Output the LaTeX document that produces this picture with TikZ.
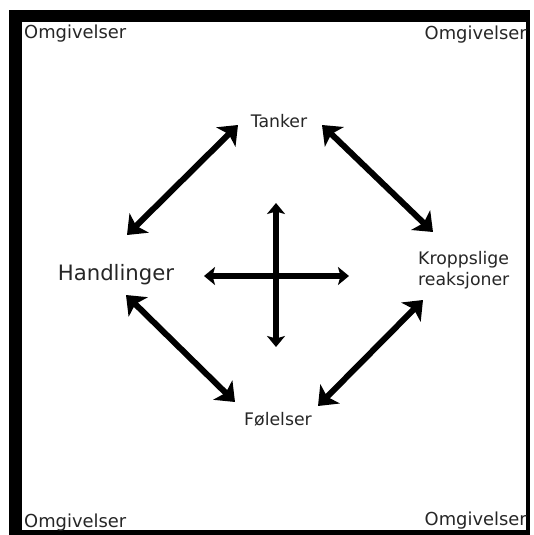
\documentclass[tikz,border=0pt]{standalone}
\usepackage{fontspec}
\setmainfont{DejaVu Sans}
\usetikzlibrary{arrows.meta}
\begin{document}
\begin{tikzpicture}[x=1pt,y=-1pt,
  lbl/.style={inner sep=0pt,font=\fontsize{17.3}{21}\selectfont,text=black!85},
  big/.style={inner sep=0pt,font=\fontsize{21.2}{26}\selectfont,text=black!85},
  corner/.style={inner sep=0pt,font=\fontsize{17.9}{21}\selectfont,text=black!85},
  diag/.style={line width=6pt,{Stealth[length=17pt,width=27pt,inset=4pt]}-{Stealth[length=17pt,width=27pt,inset=4pt]}},
  cross/.style={line width=6.5pt,{Stealth[length=11pt,width=18pt,inset=2.5pt]}-{Stealth[length=11pt,width=18pt,inset=2.5pt]}}]
\useasboundingbox (0,0) rectangle (533,535);
\fill[white] (0,0) rectangle (533,535);
\fill[black] (9,10) rectangle (530,535);
\fill[white] (22,22) rectangle (526,530);
% corner texts
\node[corner,anchor=base west] (c1) at (24,38) {Omgivelser};
\node[corner,anchor=base east] (c2) at (527,40) {Omgivelser};
\node[corner,anchor=base west] (c3) at (24,527) {Omgivelser};
\node[corner,anchor=base east] (c4) at (527,525) {Omgivelser};
% labels
\node[lbl,anchor=base] (tanker) at (279,127) {Tanker};
\node[big,anchor=base] (handl) at (116,280) {Handlinger};
\node[lbl,align=left,anchor=west] (kropp) at (418,270) {Kroppslige\\reaksjoner};
\node[lbl,anchor=base] (folelser) at (278,425) {Følelser};
% arrow endpoints
\coordinate (th1) at (238,125);
\coordinate (th2) at (127,235);
\coordinate (tk1) at (322,125);
\coordinate (tk2) at (433,232);
\coordinate (hf1) at (126,295);
\coordinate (hf2) at (235,402);
\coordinate (kf1) at (423,300);
\coordinate (kf2) at (318,406);
\coordinate (vt) at (276,203);
\coordinate (vb) at (276,347);
\coordinate (hl) at (204,276);
\coordinate (hr) at (349,276);
\draw[diag] (th1) -- (th2);
\draw[diag] (tk1) -- (tk2);
\draw[diag] (hf1) -- (hf2);
\draw[diag] (kf1) -- (kf2);
\draw[cross] (vt) -- (vb);
\draw[cross] (hl) -- (hr);
\end{tikzpicture}
\end{document}
